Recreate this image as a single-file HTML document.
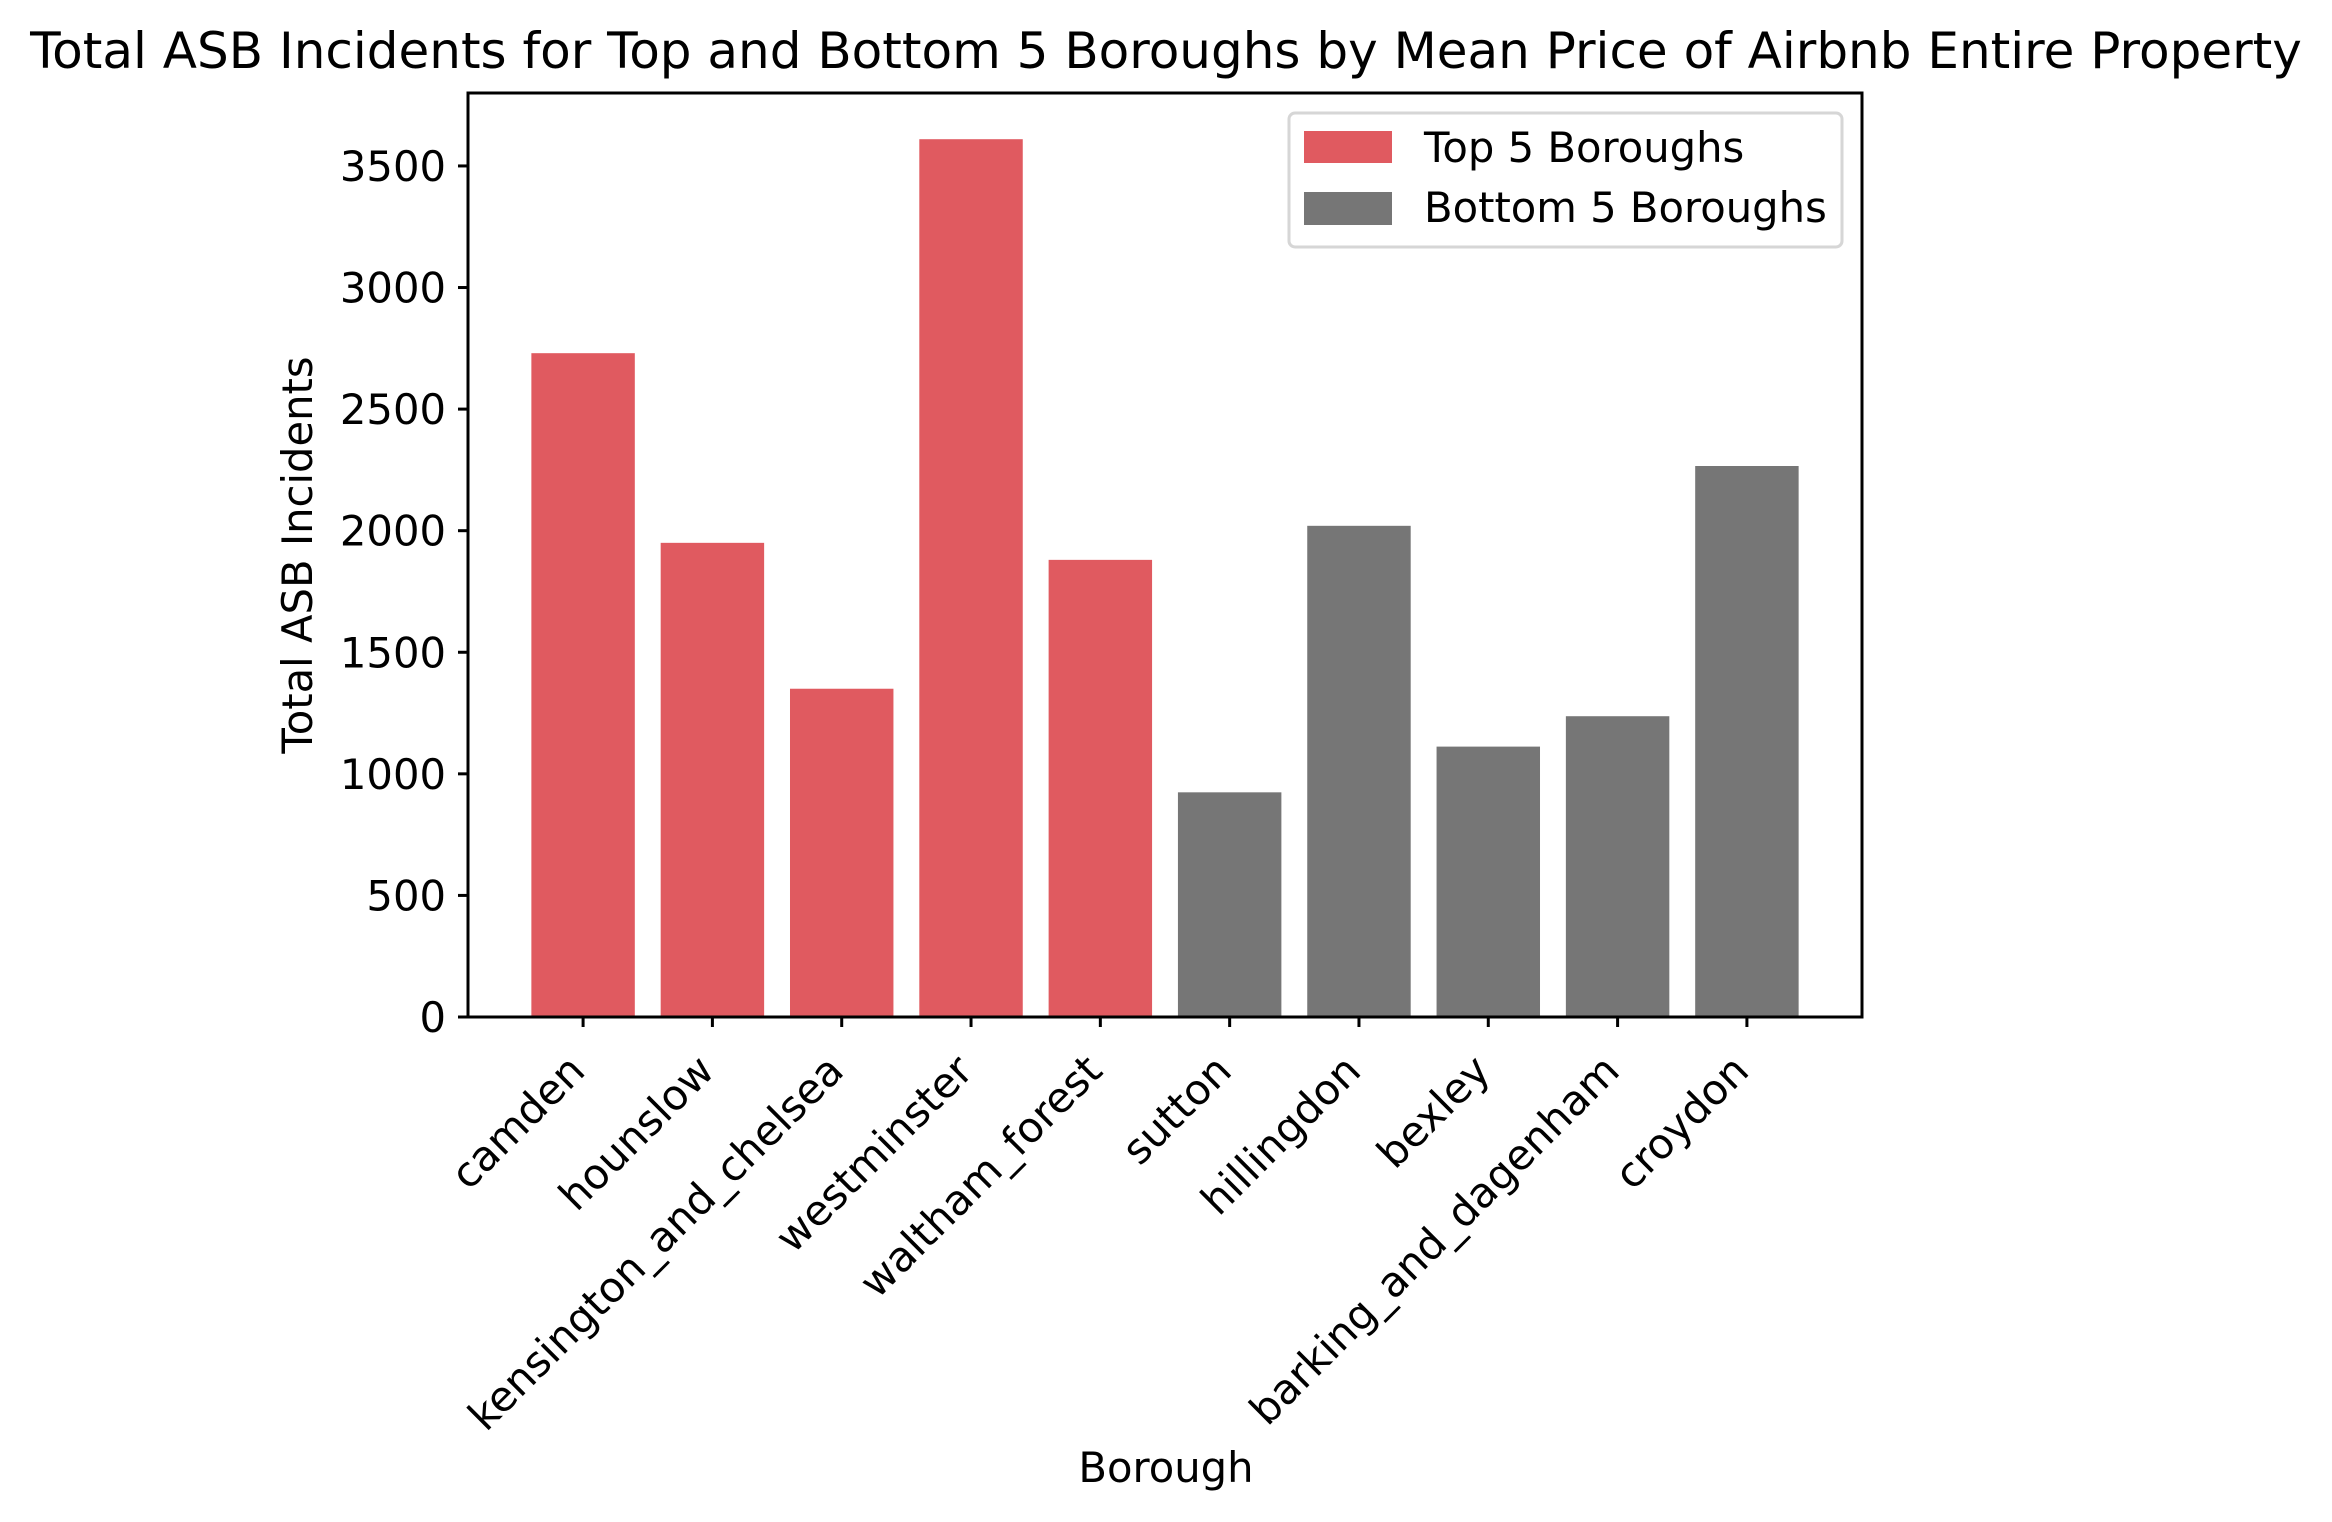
<!DOCTYPE html>
<html><head><meta charset="utf-8"><style>
html,body{margin:0;padding:0;background:#fff;}
svg{display:block;font-family:"DejaVu Sans","Liberation Sans",sans-serif;}
</style></head><body>
<svg id="chart" width="2332" height="1522" viewBox="0 0 2332 1522" xmlns="http://www.w3.org/2000/svg">
<rect width="2332" height="1522" fill="#fff"/>
<text x="1166" y="68" font-size="50" text-anchor="middle" fill="#000">Total ASB Incidents for Top and Bottom 5 Boroughs by Mean Price of Airbnb Entire Property</text>
<g id="bars"></g>
<g id="yaxis"></g>
<g id="xaxis"></g>
<rect x="468" y="93" width="1394" height="924" fill="none" stroke="#000" stroke-width="3"/>
<text transform="translate(312,555) rotate(-90)" font-size="41.7" text-anchor="middle">Total ASB Incidents</text>
<text x="1166" y="1482" font-size="41.7" text-anchor="middle">Borough</text>
<g>
<rect x="1289" y="113" width="553" height="134" rx="6" fill="#fff" stroke="#d6d6d6" stroke-width="3"/>
<rect x="1304" y="131" width="88" height="32" fill="#e05a60"/>
<text x="1424" y="162" font-size="41.7">Top 5 Boroughs</text>
<rect x="1304" y="192" width="88" height="33" fill="#767676"/>
<text x="1424" y="222" font-size="41.7">Bottom 5 Boroughs</text>
</g>
</svg>
<script>
const categories = ["camden","hounslow","kensington_and_chelsea","westminster","waltham_forest","sutton","hillingdon","bexley","barking_and_dagenham","croydon"];
const values = [2730, 1950, 1350, 3610, 1880, 924, 2020, 1112, 1237, 2266];
const groups = ["top","top","top","top","top","bottom","bottom","bottom","bottom","bottom"];
const yTicks = [0, 500, 1000, 1500, 2000, 2500, 3000, 3500];

const NS = "http://www.w3.org/2000/svg";
const L = 468, R = 1862, T = 93, B = 1017;
const xMin = -0.89, xMax = categories.length - 1 + 0.89;
const yMax = 3800;
const xs = i => L + (i - xMin) / (xMax - xMin) * (R - L);
const ys = v => B - v / yMax * (B - T);
const bandW = (R - L) / (xMax - xMin) * 0.8;
const colors = {top: "#e05a60", bottom: "#767676"};

const barsG = document.getElementById("bars");
values.forEach((v, i) => {
  const r = document.createElementNS(NS, "rect");
  r.setAttribute("x", xs(i) - bandW / 2);
  r.setAttribute("y", ys(v));
  r.setAttribute("width", bandW);
  r.setAttribute("height", B - ys(v));
  r.setAttribute("fill", colors[groups[i]]);
  
  
  barsG.appendChild(r);
});

const yG = document.getElementById("yaxis");
yTicks.forEach(t => {
  const ln = document.createElementNS(NS, "line");
  ln.setAttribute("x1", L - 10); ln.setAttribute("x2", L);
  ln.setAttribute("y1", ys(t)); ln.setAttribute("y2", ys(t));
  ln.setAttribute("stroke", "#000"); ln.setAttribute("stroke-width", "3");
  
  
  yG.appendChild(ln);
  const tx = document.createElementNS(NS, "text");
  tx.setAttribute("x", L - 22); tx.setAttribute("y", ys(t) + 15);
  tx.setAttribute("font-size", "41.7"); tx.setAttribute("text-anchor", "end");
  tx.textContent = t;
  
  
  yG.appendChild(tx);
});

const xG = document.getElementById("xaxis");
categories.forEach((c, i) => {
  const x = xs(i);
  const ln = document.createElementNS(NS, "line");
  ln.setAttribute("x1", x); ln.setAttribute("x2", x);
  ln.setAttribute("y1", B); ln.setAttribute("y2", B + 10);
  ln.setAttribute("stroke", "#000"); ln.setAttribute("stroke-width", "3");
  
  
  xG.appendChild(ln);
  const tx = document.createElementNS(NS, "text");
  tx.setAttribute("transform", "translate(" + (x + 4) + "," + (B + 56) + ") rotate(-45)");
  tx.setAttribute("font-size", "41.7"); tx.setAttribute("text-anchor", "end");
  tx.textContent = c;
  
  
  xG.appendChild(tx);
});
</script>
</body></html>
